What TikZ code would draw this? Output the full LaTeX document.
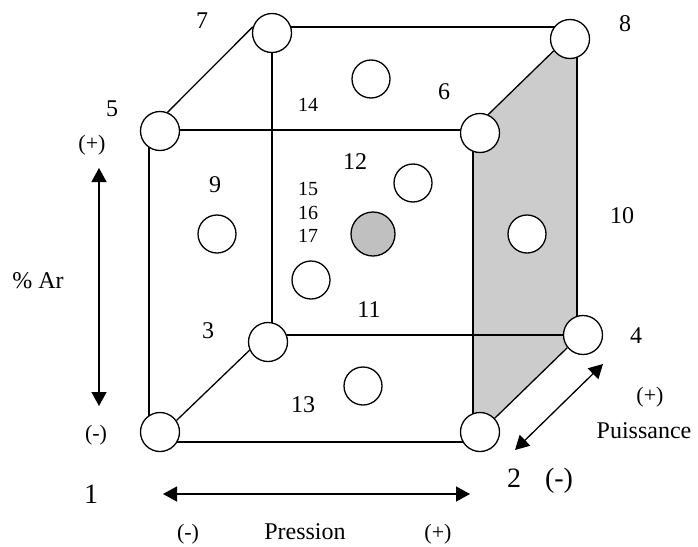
\documentclass[tikz,border=0pt]{standalone}
\usepackage{fontspec}
\setmainfont{Liberation Serif}
\usetikzlibrary{arrows.meta}
\definecolor{facegray}{RGB}{204,204,204}
\definecolor{dotgray}{RGB}{192,192,192}
\begin{document}
\begin{tikzpicture}[x=1pt,y=-1pt,
  edge/.style={line width=1.3pt},
  vtx/.style={circle,draw,line width=1.3pt,fill=white,minimum size=39pt,inner sep=0pt},
  pt/.style={circle,draw,line width=1.3pt,fill=white,minimum size=38pt,inner sep=0pt},
  ctr/.style={circle,draw,line width=1.3pt,fill=dotgray,minimum size=44pt,inner sep=0pt},
  big/.style={font=\fontsize{24}{28}\selectfont,anchor=base,inner sep=0pt},
  huge/.style={font=\fontsize{28}{32}\selectfont,anchor=base,inner sep=0pt},
  small/.style={font=\fontsize{20}{24}\selectfont,anchor=base,inner sep=0pt},
  par/.style={font=\fontsize{22}{26}\selectfont,anchor=base,inner sep=0pt},
  dbl/.style={line width=1.3pt,{Triangle[length=14pt,width=15pt]}-{Triangle[length=14pt,width=15pt]}}]
\useasboundingbox (0,0) rectangle (698,546);
% vertex positions
\path (160,432) coordinate (p1) (480,432) coordinate (p2) (268,342) coordinate (p3) (583,335) coordinate (p4)
      (160,131) coordinate (p5) (480,133) coordinate (p6) (272,33) coordinate (p7) (570,39) coordinate (p8);
% invisible helpers for anchors
\foreach \n in {1,...,8} {\node[vtx,draw=none,fill=none] (h\n) at (p\n) {};}
% grey right face
\fill[facegray] (473,135) -- (h6.66) -- (h8.216) -- (577,45) -- (577,335) -- (h4.219) -- (h2.43) -- (473,425) -- cycle;
% front face
\coordinate (f1) at (149,442); \coordinate (f2) at (473,442);
\coordinate (f5) at (149,130); \coordinate (f6) at (473,130);
\draw[edge] (f5) -- (f6) -- (f2) -- (f1) -- cycle;
% back face
\coordinate (b3) at (272,335); \coordinate (b4) at (577,335);
\coordinate (b7) at (272,27); \coordinate (b8) at (577,27);
\draw[edge] (b7) -- (b8) -- (b4) -- (b3) -- cycle;
% depth edges
\draw[edge] (h1.35) -- (h3.204);
\draw[edge] (h5.68) -- (h7.162);
\draw[edge] (h6.66) -- (h8.216);
\draw[edge] (h2.43) -- (h4.219);
% vertex circles
\foreach \n in {1,...,8} {\node[vtx] (c\n) at (p\n) {};}
% face / centre points
\node[pt] (d14) at (371,79) {};
\node[pt] (d12) at (413,183) {};
\node[pt] (d9) at (217,234) {};
\node[pt] (d10) at (527,234) {};
\node[pt] (d11) at (311,280) {};
\node[pt] (d13) at (363,386) {};
\node[ctr] (d0) at (373,234) {};
% labels
\node[big] (l7) at (202,28) {7};
\node[big] (l5) at (112,116) {5};
\node[big] (l8) at (625,31) {8};
\node[big] (l6) at (444,99) {6};
\node[small] (l14) at (308,111) {14};
\node[big] (l12) at (355,169) {12};
\node[big] (l9) at (215,192) {9};
\node[small] (l15) at (308,195) {15};
\node[small] (l16) at (308,219) {16};
\node[small] (l17) at (308,242) {17};
\node[big] (l10) at (622,223) {10};
\node[big] (lar) at (38,288) {\% Ar};
\node[big] (l11) at (369,317) {11};
\node[big] (l3) at (208,338) {3};
\node[big] (l4) at (636,343) {4};
\node[par] (lpp) at (650,402) {(+)};
\node[big] (l13) at (303,412) {13};
\node[big] (lpu) at (644,438) {Puissance};
\node[par] (lam) at (96,440) {(-)};
\node[par] (lap) at (92,150) {(+)};
\node[huge] (l2) at (514,487) {2};
\node[huge] (lpm) at (559,487) {(-)};
\node[huge] (l1) at (91,503) {1};
\node[par] (lbm) at (188,539) {(-)};
\node[big] (lpr) at (305,539) {Pression};
\node[par] (lbp) at (438,539) {(+)};
% axis arrows
\coordinate (arT) at (99,168); \coordinate (arB) at (99,406);
\coordinate (prL) at (163,494); \coordinate (prR) at (470,494);
\coordinate (puL) at (515,450); \coordinate (puR) at (603,364);
\draw[dbl] (arT) -- (arB);
\draw[dbl] (prL) -- (prR);
\draw[dbl] (puL) -- (puR);
\end{tikzpicture}
\end{document}
